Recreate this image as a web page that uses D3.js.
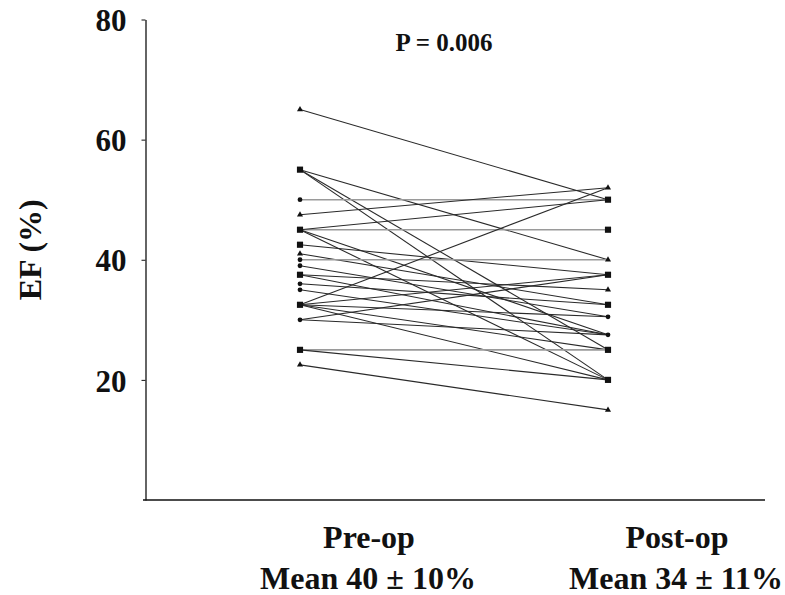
<!DOCTYPE html>
<html>
<head>
<meta charset="utf-8">
<script src="https://cdn.jsdelivr.net/npm/d3@7"></script>
<style>
  body { margin: 0; background: #fff; }
</style>
</head>
<body>
<div id="chart-area"></div>
<script>
const svgWidth = 785, svgHeight = 595;

// data
const groups = ['Pre-op', 'Post-op'];
const groupLabels = ['Mean 40 \u00b1 10%', 'Mean 34 \u00b1 11%'];
const preOp  = [65, 55, 55, 55, 50, 47.5, 45, 45, 45, 45, 42.5, 41, 40, 39, 37.5, 37.5, 36, 35, 32.5, 32.5, 32.5, 32.5, 32.5, 30, 30, 25, 25, 22.5];
const postOp = [50, 40, 20, 25, 50, 52, 45, 50, 27.5, 20, 37.5, 32.5, 40, 30.5, 35, 27.5, 32.5, 27.5, 52, 37.5, 30.5, 25, 20, 37.5, 27.5, 25, 20, 15];
const yTicks = [20, 40, 60, 80];
const pValue = 'P = 0.006';

const font = "'Liberation Serif', 'Times New Roman', serif";

const svg = d3.select('#chart-area')
  .append('svg')
    .attr('width', svgWidth)
    .attr('height', svgHeight);

const y = d3.scaleLinear().domain([0, 80]).range([500, 19.5]);
const x = d3.scalePoint().domain(groups).range([300, 608]);

// y axis
const yAxis = svg.append('g')
  .attr('transform', 'translate(145.5,0)')
  .call(d3.axisLeft(y).tickValues(yTicks).tickSize(4).tickSizeOuter(0).tickPadding(15));
yAxis.select('.domain').attr('stroke', '#111').attr('stroke-width', 1.3);
yAxis.selectAll('.tick line').attr('stroke', '#111');
yAxis.selectAll('.tick text')
  .attr('font-family', font)
  .attr('font-size', 31)
  .attr('font-weight', 700)
  .attr('fill', '#111')
  .attr('dy', '0.36em');

// x axis line
svg.append('line')
  .attr('x1', 143).attr('x2', 765)
  .attr('y1', y(0)).attr('y2', y(0))
  .attr('stroke', '#111')
  .attr('stroke-width', 1.5);

svg.append('text')
  .text('EF (%)')
  .attr('transform', `translate(41,${y(40) - 10}) rotate(-90)`)
  .attr('text-anchor', 'middle')
  .attr('font-family', font)
  .attr('font-size', 32)
  .attr('font-weight', 700)
  .attr('fill', '#111');

svg.append('text')
  .text(pValue)
  .attr('x', 444)
  .attr('y', 51)
  .attr('text-anchor', 'middle')
  .attr('font-family', font)
  .attr('font-size', 25)
  .attr('font-weight', 700)
  .attr('fill', '#111');

// group labels under the axis
const labels = svg.selectAll('.glabel')
    .data(groups)
    .enter()
  .append('text')
    .attr('class', 'glabel')
    .attr('text-anchor', 'middle')
    .attr('font-family', font)
    .attr('font-size', 32)
    .attr('font-weight', 700)
    .attr('fill', '#111');
labels.append('tspan')
  .attr('x', d => x(d) + 69)
  .attr('y', 548)
  .text(d => d);
labels.append('tspan')
  .attr('x', d => x(d) + 68)
  .attr('y', 589)
  .text((d, i) => groupLabels[i]);

// paired lines
const pairs = preOp.map((v, i) => ({ pre: v, post: postOp[i] }));

svg.selectAll('.pair')
    .data(pairs)
    .enter()
  .append('line')
    .attr('class', 'pair')
    .attr('x1', x('Pre-op'))
    .attr('x2', x('Post-op'))
    .attr('y1', d => y(d.pre))
    .attr('y2', d => y(d.post))
    .attr('stroke', d => d.pre === d.post ? '#9a9a9a' : '#2a2a2a')
    .attr('stroke-width', d => d.pre === d.post ? 1.6 : 1.1);

// marker shapes by value (roughly what the figure shows)
const preSquares = [55, 45, 42.5, 37.5, 32.5, 25];
const preTriangles = [65, 47.5, 41, 22.5];
const postSquares = [50, 45, 37.5, 32.5, 25, 20];
const postTriangles = [52, 40, 35, 15];

const symbolFor = (v, squares, triangles) => {
  if (squares.includes(v)) return d3.symbol().type(d3.symbolSquare).size(38)();
  if (triangles.includes(v)) return d3.symbol().type(d3.symbolTriangle).size(16)();
  return d3.symbol().type(d3.symbolCircle).size(18)();
};

svg.selectAll('.mpre')
    .data(Array.from(new Set(preOp)))
    .enter()
  .append('path')
    .attr('class', 'mpre')
    .attr('transform', d => `translate(${x('Pre-op')},${y(d)})`)
    .attr('d', d => symbolFor(d, preSquares, preTriangles))
    .attr('fill', '#111');

svg.selectAll('.mpost')
    .data(Array.from(new Set(postOp)))
    .enter()
  .append('path')
    .attr('class', 'mpost')
    .attr('transform', d => `translate(${x('Post-op')},${y(d)})`)
    .attr('d', d => symbolFor(d, postSquares, postTriangles))
    .attr('fill', '#111');
</script>
</body>
</html>
